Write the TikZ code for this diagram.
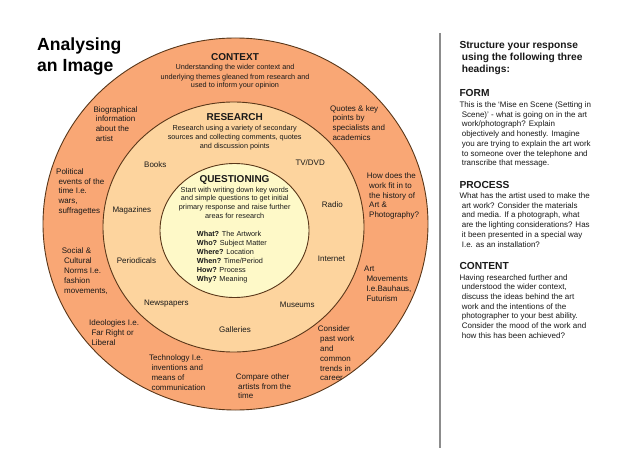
\documentclass[tikz,border=0pt]{standalone}
\usepackage{fontspec}
\setmainfont{Liberation Sans}
\usetikzlibrary{shapes.geometric}
\definecolor{outerfill}{RGB}{249,167,117}
\definecolor{midfill}{RGB}{253,212,158}
\definecolor{innerfill}{RGB}{254,249,200}
\definecolor{ringline}{RGB}{90,55,25}
\definecolor{ink}{RGB}{25,25,25}
\definecolor{rulegray}{RGB}{140,140,140}
\newcommand\nl{\\\hspace*{2.3pt}}
\begin{document}
\begin{tikzpicture}[x=1pt,y=-1pt,
  ring/.style={ellipse, draw=ringline, line width=0.9pt, inner sep=0pt},
  lbl/.style={anchor=base west, align=left, inner sep=0pt, text=ink, font=\fontsize{8}{9.8}\selectfont},
  ringhead/.style={anchor=base, inner sep=0pt, text=ink, font=\fontsize{10}{12}\selectfont\bfseries},
  ringbody/.style={anchor=base, align=center, inner sep=0pt, text=ink, font=\fontsize{7.3}{9}\selectfont},
  qlist/.style={anchor=base west, align=left, inner sep=0pt, text=ink, font=\fontsize{7.3}{8.9}\selectfont},
  sidehead/.style={anchor=base west, align=left, inner sep=0pt, text=ink, font=\fontsize{10.2}{11.7}\selectfont\bfseries},
  sidebody/.style={anchor=base west, align=left, inner sep=0pt, text=ink, font=\fontsize{8}{9.7}\selectfont},
  titlestyle/.style={anchor=base west, align=left, inner sep=0pt, text=black, font=\fontsize{17.6}{21}\selectfont\bfseries}
]
\useasboundingbox (0,0) rectangle (640,452);
\fill[white] (0,0) rectangle (640,452);

% rings
\node[ring, fill=outerfill, minimum width=385pt, minimum height=372pt] (outer) at (235.5,224) {};
\node[ring, fill=midfill, minimum width=261pt, minimum height=250pt] (middle) at (233.5,227) {};
\node[ring, fill=innerfill, minimum width=149pt, minimum height=134pt] (inner) at (234.5,230.5) {};

% title (anchor = baseline of last line)
\node[titlestyle] (title) at (37,72) {Analysing\\an Image};

% context
\node[ringhead] (ctxh) at (235,60.5) {CONTEXT};
\node[ringbody] (ctxb) at (235,88) {Understanding the wider context and\\underlying themes gleaned from research and\\used to inform your opinion};

% research
\node[ringhead] (resh) at (234.7,120.7) {RESEARCH};
\node[ringbody, font=\fontsize{7.3}{9.1}\selectfont] (resb) at (234.7,148.2) {Research using a variety of secondary\\sources and collecting comments, quotes\\and discussion points};

% questioning
\node[ringhead] (qh) at (234.5,182.5) {QUESTIONING};
\node[ringbody, font=\fontsize{7.3}{8.9}\selectfont] (qb) at (234.7,218.7) {Start with writing down key words\\and simple questions to get initial\\primary response and raise further\\areas for research};
\node[qlist] (qs) at (196.7,281.3) {\textbf{What?} The Artwork\\\textbf{Who?} Subject Matter\\\textbf{Where?} Location\\\textbf{When?} Time/Period\\\textbf{How?} Process\\\textbf{Why?} Meaning};

% context ring labels
\node[lbl] (bio) at (93.3,141.4) {Biographical\nl information\nl about the\nl artist};
\node[lbl] (quotes) at (330,140.4) {Quotes \& key\nl points by\nl specialists and\nl academics};
\node[lbl] (pol) at (56,213.4) {Political\nl events of the\nl time I.e.\nl wars,\nl suffragettes};
\node[lbl] (hist) at (366.7,217.7) {How does the\nl work fit in to\nl the history of\nl Art \&\nl Photography?};
\node[lbl] (soc) at (61.7,293) {Social \&\nl Cultural\nl Norms I.e.\nl fashion\nl movements,};
\node[lbl] (move) at (364,301.2) {Art\nl Movements\nl I.e.Bauhaus,\nl Futurism};
\node[lbl] (ideo) at (89,345.1) {Ideologies I.e.\nl Far Right or\nl Liberal};
\node[lbl] (cons) at (317.7,380.8) {Consider\nl past work\nl and\nl common\nl trends in\nl career};
\node[lbl] (tech) at (149,390.2) {Technology I.e.\nl inventions and\nl means of\nl communication};
\node[lbl] (comp) at (235.7,398.8) {Compare other\nl artists from the\nl time};

% research ring labels
\node[lbl] (books) at (144,167.8) {Books};
\node[lbl] (tv) at (295.3,165.2) {TV/DVD};
\node[lbl] (mags) at (112.3,212.5) {Magazines};
\node[lbl] (radio) at (321.7,207.8) {Radio};
\node[lbl] (peri) at (116.7,263.2) {Periodicals};
\node[lbl] (net) at (317.7,261.2) {Internet};
\node[lbl] (news) at (144,305.8) {Newspapers};
\node[lbl] (mus) at (279.7,307.5) {Museums};
\node[lbl] (gal) at (219,332.5) {Galleries};

% divider
\coordinate (divtop) at (440,33);
\coordinate (divbot) at (440,448);
\draw[rulegray, line width=1.5pt] (divtop) -- (divbot);

% right panel
\node[sidehead] (struct) at (459.3,72.4) {Structure your response\\\hspace*{2.3pt}using the following three\\\hspace*{2.3pt}headings:};
\node[sidehead] (formh) at (459.3,96.5) {FORM};
\node[sidebody] (formb) at (459.3,165.7) {This is the ‘Mise en Scene (Setting in\nl Scene)’ - what is going on in the art\nl work/photograph? Explain\nl objectively and honestly. Imagine\nl you are trying to explain the art work\nl to someone over the telephone and\nl transcribe that message.};
\node[sidehead] (proch) at (459.3,188.7) {PROCESS};
\node[sidebody] (procb) at (459.3,247) {What has the artist used to make the\nl art work? Consider the materials\nl and media. If a photograph, what\nl are the lighting considerations? Has\nl it been presented in a special way\nl I.e. as an installation?};
\node[sidehead] (conth) at (459.3,269.5) {CONTENT};
\node[sidebody] (contb) at (459.3,338.2) {Having researched further and\nl understood the wider context,\nl discuss the ideas behind the art\nl work and the intentions of the\nl photographer to your best ability.\nl Consider the mood of the work and\nl how this has been achieved?};
\end{tikzpicture}
\end{document}
